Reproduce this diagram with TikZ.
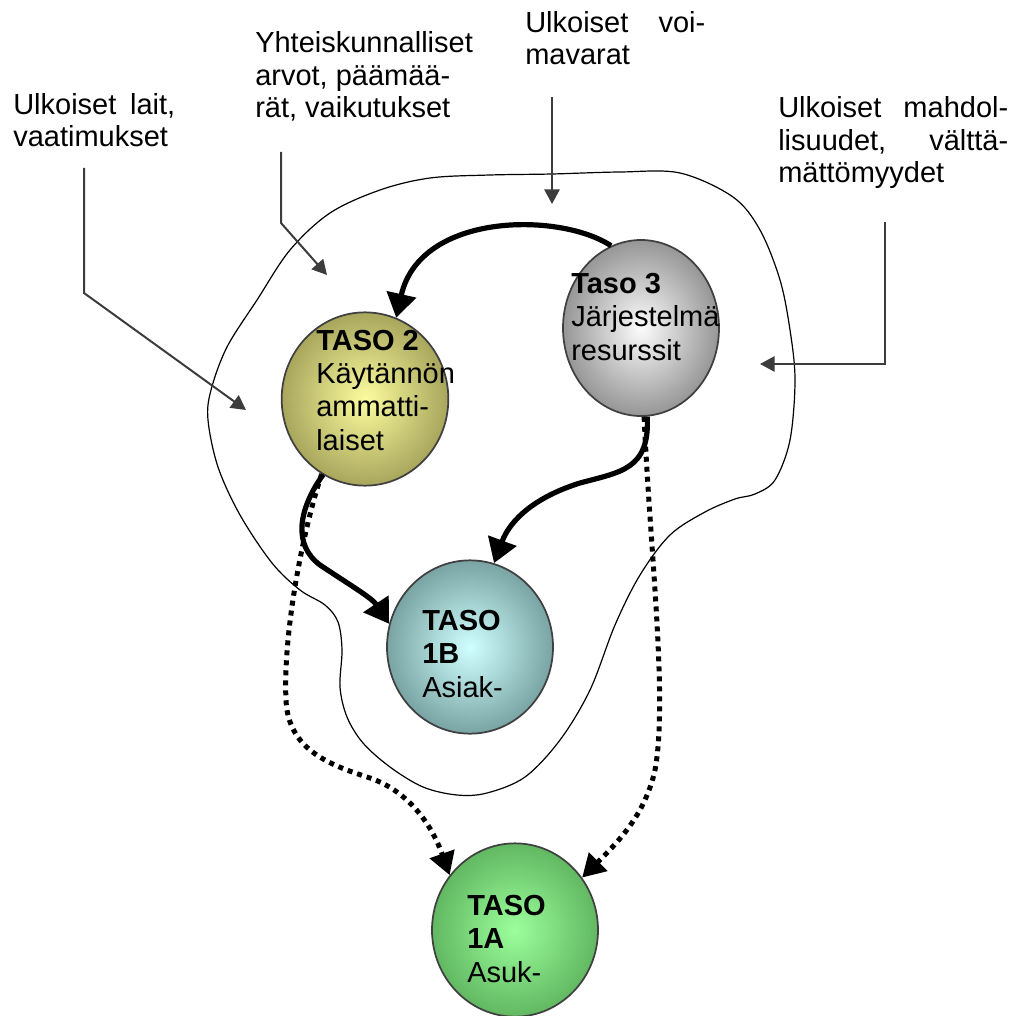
\documentclass[tikz,border=0pt]{standalone}
\usepackage{fontspec}
\setmainfont{Liberation Sans}
\usetikzlibrary{arrows.meta,shapes.geometric}

\definecolor{rim}{HTML}{404040}
\definecolor{feed}{HTML}{3C3C3C}
\definecolor{oliveIn}{RGB}{252,252,158}
\definecolor{oliveOut}{RGB}{168,166,92}
\definecolor{greyIn}{RGB}{252,252,252}
\definecolor{greyOut}{RGB}{150,150,150}
\definecolor{tealIn}{RGB}{208,255,255}
\definecolor{tealOut}{RGB}{122,164,164}
\definecolor{greenIn}{RGB}{155,255,155}
\definecolor{greenOut}{RGB}{98,184,98}

\tikzset{
  sphere/.style={ellipse, draw=rim, line width=1.3pt, inner sep=0pt,
                 minimum width=124.5pt, minimum height=130pt},
  ballText/.style={font=\fontsize{21.75pt}{25pt}\selectfont, align=left, inner sep=0pt},
  label/.style={font=\fontsize{21.75pt}{24.4pt}\selectfont, align=left, inner sep=0pt},
  feeder/.style={draw=feed, line width=1.5pt, -{Triangle[length=11pt,width=11.5pt]}},
  flow/.style={draw=black, line width=3.9pt, -{Triangle[length=18pt,width=22pt]}},
  dotflow/.style={draw=black, line width=3.75pt, dash pattern=on 3.75pt off 3.75pt,
                  -{Triangle[length=17pt,width=19pt]}},
  blob/.style={draw=black, line width=0.9pt}
}

\begin{document}
\begin{tikzpicture}[x=0.75pt,y=-0.75pt]
\useasboundingbox (0,0) rectangle (1013,1016);

% outer boundary of the organisation
\draw[blob] plot[smooth cycle, tension=0.55] coordinates {
  (380,190) (430,178) (490,175) (552,174) (620,172) (680,173) (733,197)
  (760,230) (780,280) (790,330) (795,380) (790,440) (775,480) (755,494)
  (735,499) (705,512) (670,535) (640,575) (615,625) (590,690) (560,740)
  (525,777) (487,793) (457,795) (423,787) (390,767) (363,743) (347,717)
  (340,687) (342,650) (338,622) (325,605) (300,590) (272,563) (240,515)
  (218,467) (208,420) (211,390) (227,347) (257,300) (290,250) (330,213)};

% the four levels
\node[sphere, inner color=oliveIn, outer color=oliveOut, minimum width=125pt] (t2) at (365,399) {};
\node[sphere, inner color=greyIn, outer color=greyOut, minimum width=117pt, minimum height=132pt] (t3) at (641,328) {};
\node[sphere, inner color=tealIn, outer color=tealOut] (t1b) at (470,647) {};
\node[sphere, inner color=greenIn, outer color=greenOut] (t1a) at (515,930) {};

% texts are anchored at the baseline of their last line
\node[ballText, anchor=base west] (t2txt) at (316,450) {\textbf{TASO 2}\\Käytännön\\ammatti-\\laiset};
\node[ballText, anchor=base west] (t3txt) at (571,360) {\textbf{Taso 3}\\Järjestelmä\\resurssit};
\node[ballText, anchor=base west] (t1btxt) at (422,697) {\textbf{TASO}\\\textbf{1B}\\Asiak-};
\node[ballText, anchor=base west] (t1atxt) at (467,982) {\textbf{TASO}\\\textbf{1A}\\Asuk-};

% external influences
\node[label, anchor=base west] (lait) at (13,147) {\makebox[121.5pt][s]{Ulkoiset lait,}\\vaatimukset};
\node[label, anchor=base west] (arvot) at (255,118) {Yhteiskunnalliset\\arvot, päämää-\\rät, vaikutukset};
\node[label, anchor=base west] (voima) at (525,65) {\makebox[135pt][s]{Ulkoiset voi-}\\mavarat};
\node[label, anchor=base west] (mahd) at (778,183) {\makebox[172.5pt][s]{Ulkoiset mahdol-}\\\makebox[172.5pt][s]{lisuudet, välttä-}\\mättömyydet};

\coordinate (laitS) at (84,168);    \coordinate (laitT) at (246,410);
\coordinate (arvotS) at (281,152);  \coordinate (arvotT) at (327,275);
\coordinate (voimaS) at (552,97);   \coordinate (voimaT) at (552,204);
\coordinate (mahdS) at (885,222);   \coordinate (mahdT) at (760,364);

\draw[feeder] (laitS) -- (84,293) -- (laitT);
\draw[feeder] (arvotS) -- (281,223) -- (arvotT);
\draw[feeder] (voimaS) -- (voimaT);
\draw[feeder] (mahdS) -- (885,364) -- (mahdT);

% relations between the levels
\draw[flow] (t3.110) .. controls (560,212) and (420,212) .. (t2.69);
\draw[flow] (t3.-86) .. controls (650,470) and (620,472) .. (580,483)
            .. controls (535,497) and (510,520) .. (t1b.74);
\draw[flow] (t2.241) .. controls (298,510) and (293,545) .. (320,565)
            .. controls (350,585) and (372,598) .. (t1b.164);

\draw[dotflow] (t2.240) .. controls (300,540) and (283,640) .. (286,700)
               .. controls (288,750) and (330,765) .. (370,778)
               .. controls (405,790) and (430,820) .. (t1a.140);
\draw[dotflow] (t3.-88) .. controls (650,550) and (668,700) .. (655,770)
               .. controls (645,815) and (618,842) .. (t1a.38);
\end{tikzpicture}
\end{document}
